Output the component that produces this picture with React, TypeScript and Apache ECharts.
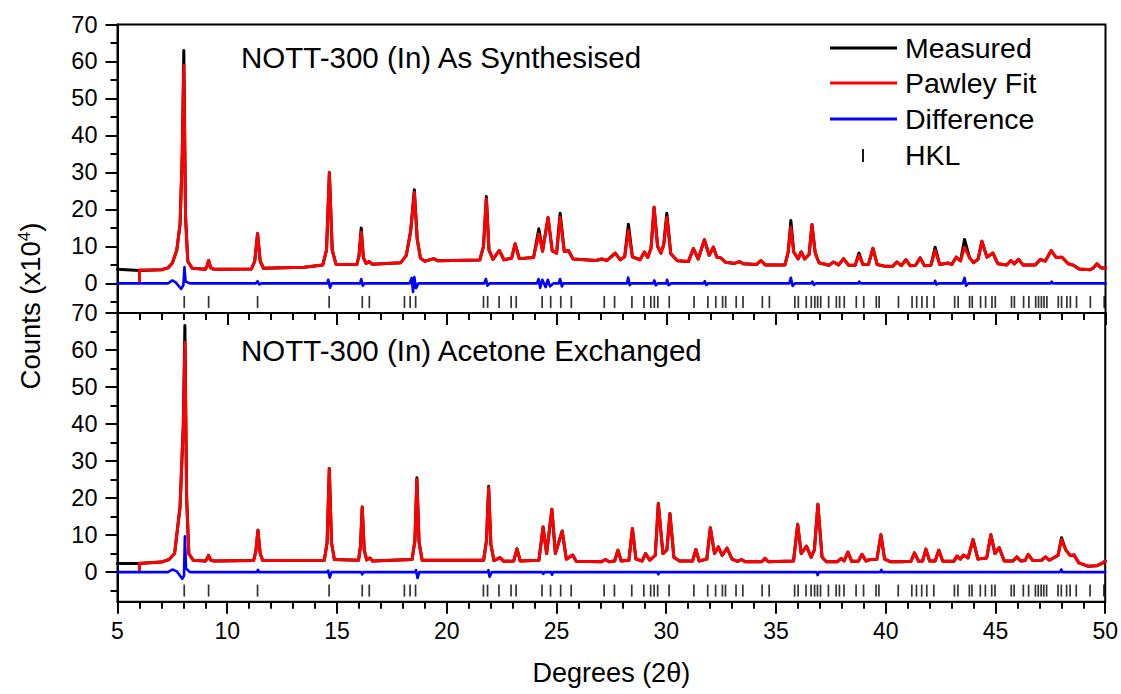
import React, { useEffect, useRef } from "react";
import * as echarts from "echarts";

const FONT = '"Liberation Sans", Arial, sans-serif';

const xTicks = [5, 50, 5];
const yMajor = [0, 10, 20, 30, 40, 50, 60, 70];
const yMinor = [-5, 5, 15, 25, 35, 45, 55, 65];

const hklPositions = [8.04, 9.15, 11.38, 14.64, 16.15, 16.47, 18.07, 18.33, 18.58, 21.67, 21.86, 22.38, 22.93, 23.16, 24.34, 24.73, 25.19, 25.67, 27.17, 27.64, 28.43, 28.98, 29.29, 29.45, 29.61, 30.13, 31.26, 31.89, 32.25, 32.56, 32.7, 33.18, 33.49, 34.37, 34.69, 35.85, 36.01, 36.37, 36.6, 36.76, 36.89, 37.03, 37.39, 37.74, 37.89, 38.1, 38.65, 38.99, 39.56, 39.69, 40.57, 41.19, 41.4, 41.64, 41.87, 42.19, 43.13, 43.29, 43.81, 43.93, 44.31, 44.54, 44.83, 44.98, 45.72, 45.85, 46.27, 46.51, 46.82, 46.95, 47.08, 47.2, 47.33, 47.85, 48.0, 48.24, 48.4, 48.68, 49.31, 49.94];

// Top panel: NOTT-300 (In) As Synthesised
const topMeasured = [[5,3.8],[6,3.5],[7,3.7],[7.3,4.2],[7.5,5.5],[7.7,9],[7.85,16],[7.95,35],[8.02,63],[8.1,18],[8.2,6],[8.4,4.1],[9.0,3.8],[9.07,4.5],[9.15,6.2],[9.25,4.2],[9.4,3.8],[11.1,3.9],[11.25,6],[11.38,13.5],[11.5,6],[11.65,4.1],[13.5,4.4],[14.35,5],[14.52,9],[14.65,30],[14.78,9],[14.95,5.2],[15.9,5.1],[16.0,7.5],[16.1,15],[16.2,7],[16.32,5.4],[16.46,5.9],[16.6,5.2],[17.9,5.6],[18.15,7.5],[18.35,14],[18.52,25.3],[18.65,12],[18.8,6.8],[19.0,6.0],[19.4,6.7],[19.6,6.1],[21.5,6.3],[21.67,10],[21.8,23.5],[21.92,9],[22.1,6.5],[22.39,8.9],[22.6,6.4],[22.95,6.8],[23.11,10.7],[23.3,6.7],[23.95,7],[24.19,14.8],[24.36,8.7],[24.61,17.8],[24.8,8.8],[25.0,8.2],[25.16,19],[25.35,8.6],[25.54,8.9],[25.75,6.6],[26.8,6.2],[27.06,6.6],[27.3,6.2],[27.67,8.2],[27.9,6.4],[28.1,7.2],[28.27,16],[28.45,7.2],[28.8,6.4],[29.0,8.5],[29.15,7],[29.3,9.5],[29.44,20.6],[29.6,10],[29.75,8.2],[29.88,10.5],[30.02,19],[30.2,8],[30.5,6.1],[31.0,5.9],[31.23,9.4],[31.45,6.6],[31.73,11.8],[31.95,7.6],[32.14,9.8],[32.3,7.1],[32.48,6.9],[32.7,5.7],[33.1,5.4],[33.33,5.9],[33.5,5.3],[34.1,5.1],[34.3,6.2],[34.5,5.0],[35.4,5.0],[35.55,8.5],[35.67,17],[35.8,8.5],[36.0,6.6],[36.14,8.5],[36.3,6.6],[36.5,7.8],[36.63,15.9],[36.78,8.2],[36.95,5.6],[37.4,4.9],[37.61,5.8],[37.85,5.0],[38.07,6.7],[38.3,4.9],[38.6,4.9],[38.77,8.2],[38.95,5.1],[39.2,5.1],[39.41,9.5],[39.6,5.1],[39.9,4.7],[40.3,4.6],[40.5,5.8],[40.7,4.8],[40.91,6.4],[41.1,4.8],[41.35,4.9],[41.56,6.9],[41.75,4.8],[42.05,4.9],[42.24,9.8],[42.45,5.1],[42.85,5.5],[43.0,5.1],[43.2,7.1],[43.4,6.1],[43.58,11.9],[43.81,6.9],[44.0,5.6],[44.2,6.6],[44.37,11.4],[44.6,7.1],[44.87,8.2],[45.1,5.3],[45.5,5.0],[45.69,6.2],[45.85,5.3],[46.04,6.5],[46.25,5.0],[46.8,5.0],[47.03,6.5],[47.25,6.0],[47.53,8.9],[47.75,7.0],[48.02,7.1],[48.3,5.3],[48.54,4.9],[48.8,3.9],[49.3,3.7],[49.45,4.2],[49.61,5.3],[49.8,4.2],[50,4.2]];
const topFitStart = [[6.0, 0.3], [6.0, 3.6]];
const topFitPeaks = [[8.02,59],[16.1,13.9],[18.52,24.6],[21.8,22.9],[24.19,13.4],[25.16,17.9],[28.27,14.3],[30.02,17.9],[35.67,15.2],[38.77,7.6],[42.24,8.9],[43.58,9.8]];
const topDifference = [[5,0],[7.3,0],[7.5,0.8],[7.65,0.3],[7.9,-1.5],[8.0,-0.5],[8.05,4.4],[8.1,0.5],[8.3,0],[11.3,0],[11.38,0.6],[11.45,-0.3],[11.55,0],[14.55,0],[14.6,1.0],[14.68,-1.2],[14.75,0],[16.05,0],[16.1,1.2],[16.17,-0.6],[16.25,0],[18.3,0],[18.4,1.5],[18.46,-2.3],[18.52,1.7],[18.6,-1.3],[18.7,0],[21.7,0],[21.78,1.2],[21.85,-0.6],[21.95,0],[24.1,0],[24.18,1.2],[24.25,-1.2],[24.35,1.0],[24.5,-1.0],[24.6,1.0],[24.7,-0.8],[24.85,0],[25.1,0],[25.16,1.2],[25.24,-0.8],[25.3,0],[28.2,0],[28.26,1.6],[28.33,-0.5],[28.4,0],[29.4,0],[29.45,0.8],[29.52,-0.5],[29.6,0],[30.0,0],[30.03,1.0],[30.1,-0.5],[30.2,0],[31.7,0],[31.75,0.6],[31.82,-0.4],[31.9,0],[35.6,0],[35.67,1.5],[35.75,-0.7],[35.85,0],[36.6,0],[36.65,0.5],[36.72,-0.4],[36.8,0],[38.75,0],[38.78,0.5],[38.85,0],[42.2,0],[42.24,0.7],[42.3,-0.3],[42.4,0],[43.5,0],[43.58,1.5],[43.65,-0.6],[43.75,0],[47.5,0],[47.55,0.5],[47.6,0],[50,0]];

// Bottom panel: NOTT-300 (In) Acetone Exchanged
const bottomMeasured = [[5,2.3],[6,2.3],[7,2.7],[7.35,3.4],[7.6,5],[7.85,17.6],[8.0,40],[8.07,66.6],[8.15,20],[8.25,5],[8.45,3.2],[9.0,3.0],[9.08,3.6],[9.15,4.5],[9.25,3.2],[9.4,3.0],[11.2,3.1],[11.3,5.5],[11.4,11.3],[11.5,5],[11.62,3.1],[14.42,3.2],[14.55,8],[14.65,28],[14.75,8],[14.88,3.4],[15.98,3.2],[16.07,7],[16.15,17.6],[16.24,6],[16.35,3.3],[16.5,3.8],[16.62,3.0],[18.42,3.4],[18.55,8.5],[18.64,25.5],[18.74,8],[18.88,3.2],[21.68,3.2],[21.81,8.5],[21.91,23.2],[22.01,7.5],[22.15,3.1],[22.43,3.9],[22.6,2.9],[23.05,3.0],[23.2,6.3],[23.35,3.0],[24.2,3.2],[24.39,12.2],[24.55,5],[24.79,17.0],[24.95,5],[25.26,11.1],[25.45,3.5],[25.74,4.6],[25.9,2.9],[27.05,2.8],[27.23,3.4],[27.4,2.8],[27.65,3.0],[27.8,5.9],[27.95,3.0],[28.3,3.2],[28.46,11.8],[28.62,3.5],[28.9,3.0],[29.06,5.0],[29.25,3.2],[29.5,4.5],[29.64,18.5],[29.85,5],[30.03,6],[30.17,15.8],[30.35,4.0],[30.6,3.0],[31.2,3.0],[31.35,6.1],[31.5,3.0],[31.85,3.5],[32.01,12.0],[32.2,5],[32.37,6.8],[32.55,4.5],[32.77,6.5],[33.0,3.5],[33.25,2.9],[33.43,3.4],[33.6,2.8],[34.35,2.8],[34.5,3.7],[34.65,2.8],[35.8,3.0],[35.99,12.9],[36.15,5],[36.39,7.0],[36.6,4.0],[36.75,6],[36.91,18.3],[37.1,4],[37.3,2.8],[37.8,2.8],[37.97,3.7],[38.1,3.0],[38.28,5.4],[38.45,2.9],[38.75,2.9],[38.92,4.8],[39.1,3.0],[39.28,3.4],[39.6,3.5],[39.78,10.1],[39.95,3.5],[40.2,2.8],[40.72,2.8],[41.15,2.9],[41.31,5.2],[41.5,2.9],[41.68,3.0],[41.83,6.2],[42.0,3.0],[42.25,3.0],[42.42,5.9],[42.6,2.9],[43.1,2.9],[43.25,4.3],[43.4,3.5],[43.54,4.6],[43.75,3.8],[43.98,8.8],[44.2,3.5],[44.6,3.8],[44.79,10.1],[44.98,5],[45.17,6.6],[45.4,3.0],[45.8,3.0],[45.97,4.1],[46.15,3.0],[46.35,3.1],[46.49,4.8],[46.7,3.1],[47.1,3.2],[47.28,4.1],[47.45,3.2],[47.85,4.5],[48.01,9.3],[48.2,6.0],[48.4,4.5],[48.58,4.6],[48.8,2.5],[49.2,1.6],[49.6,1.7],[49.9,2.5],[50,3.0]];
const bottomFitStart = [[6.0, 0.5], [6.0, 2.4]];
const bottomFitPeaks = [[8.07,62],[18.64,25],[21.91,22.8],[48.01,8.8]];
const bottomDifference = [[5,0],[7.3,0],[7.5,0.7],[7.7,0.2],[7.95,-1.8],[8.03,-1.0],[8.07,9.7],[8.12,1.0],[8.3,0],[11.35,0],[11.4,0.6],[11.45,0],[14.55,0],[14.6,0.4],[14.67,-1.5],[14.75,0],[16.1,0],[16.15,-0.6],[16.2,0],[18.55,0],[18.6,0.5],[18.67,-1.6],[18.75,0],[21.85,0],[21.9,0.5],[21.95,-1.3],[22.05,0],[24.35,0],[24.4,-0.5],[24.45,0],[24.75,0],[24.8,-0.7],[24.85,0],[29.6,0],[29.64,-0.6],[29.7,0],[36.85,0],[36.9,-0.8],[36.95,0],[39.75,0],[39.8,0.6],[39.85,0],[47.95,0],[48.0,0.7],[48.05,0],[50,0]];

const panelTitles = ["NOTT-300 (In) As Synthesised", "NOTT-300 (In) Acetone Exchanged"];
const legendNames = ["Measured", "Pawley Fit", "Difference", "HKL"];
const colors = { measured: "#000000", fit: "#ff0000", diff: "#0000ff" };

function buildFit(measured: number[][], start: number[][], peaks: number[][]) {
  const over = new Map(peaks.map((p) => [p[0], p[1]]));
  const startX = start[start.length - 1][0];
  return [
    ...start,
    ...measured.filter((p) => p[0] > startX).map((p) => (over.has(p[0]) ? [p[0], over.get(p[0]) as number] : p)),
  ];
}

const hklData = hklPositions.map((x) => [x, -5]);

function xAxisFor(gridIndex: number, showLabels: boolean) {
  return {
    type: "value",
    gridIndex,
    min: xTicks[0],
    max: xTicks[1],
    interval: xTicks[2],
    position: "bottom",
    axisLine: { show: true, onZero: false, lineStyle: { color: "#000", width: 2 } },
    axisTick: { show: true, length: 12, lineStyle: { color: "#000", width: 2 } },
    minorTick: { show: true, splitNumber: 5, length: 7, lineStyle: { color: "#000", width: 2 } },
    splitLine: { show: false },
    axisLabel: { show: showLabels, margin: 18, fontSize: 23, color: "#000", fontFamily: FONT },
    name: showLabels ? "Degrees (2θ)" : "",
    nameLocation: "middle",
    nameGap: 58,
    nameTextStyle: { fontSize: 27, color: "#000", fontFamily: FONT },
  };
}

function yAxesFor(gridIndex: number) {
  return [
    {
      type: "value",
      gridIndex,
      min: -8,
      max: 70,
      position: "left",
      axisLine: { show: true, onZero: false, lineStyle: { color: "#000", width: 2 } },
      axisTick: { show: true, length: 12, customValues: yMajor, lineStyle: { color: "#000", width: 2 } },
      axisLabel: { show: true, customValues: yMajor, margin: 20, fontSize: 23.5, color: "#000", fontFamily: FONT },
      splitLine: { show: false },
    },
    {
      type: "value",
      gridIndex,
      min: -8,
      max: 70,
      position: "left",
      offset: 0,
      axisLine: { show: false, onZero: false },
      axisTick: { show: true, length: 7, customValues: yMinor, lineStyle: { color: "#000", width: 2 } },
      axisLabel: { show: false },
      splitLine: { show: false },
    },
  ];
}

function panelSeries(xi: number, yi: number, measured: number[][], fit: number[][], diff: number[][]) {
  const line = (name: string, data: number[][], color: string, width: number) => ({
    name,
    type: "line",
    xAxisIndex: xi,
    yAxisIndex: yi,
    data,
    showSymbol: false,
    symbol: "none",
    lineStyle: { color, width, join: "round", cap: "round" },
    itemStyle: { color },
  });
  return [
    line(legendNames[0], measured, colors.measured, 3),
    line(legendNames[1], fit, colors.fit, 3),
    line(legendNames[2], diff, colors.diff, 2.6),
    {
      name: legendNames[3],
      type: "scatter",
      xAxisIndex: xi,
      yAxisIndex: yi,
      data: hklData,
      symbol: "rect",
      symbolSize: [1.7, 12],
      itemStyle: { color: "#000" },
    },
  ];
}

export default function App() {
  const ref = useRef<HTMLDivElement>(null);
  useEffect(() => {
    if (!ref.current) return;
    const chart = echarts.init(ref.current, undefined, { renderer: "svg" });
    const topFit = buildFit(topMeasured, topFitStart, topFitPeaks);
    const bottomFit = buildFit(bottomMeasured, bottomFitStart, bottomFitPeaks);
    const legendY = [48, 83, 119, 155];
    const legendColors = [colors.measured, colors.fit, colors.diff];
    const graphic: any[] = [];
    legendColors.forEach((c, i) => {
      graphic.push({ type: "line", shape: { x1: 830, y1: legendY[i], x2: 897, y2: legendY[i] }, style: { stroke: c, lineWidth: 3 } });
    });
    graphic.push({ type: "line", shape: { x1: 863, y1: legendY[3] - 6, x2: 863, y2: legendY[3] + 7 }, style: { stroke: "#000", lineWidth: 1.8 } });
    legendNames.forEach((n, i) => {
      graphic.push({ type: "text", x: 905, y: legendY[i], style: { text: n, fontSize: 28.5, fontFamily: FONT, fill: "#000", verticalAlign: "middle" } });
    });
    graphic.push({ type: "text", x: 241, y: 57, style: { text: panelTitles[0], fontSize: 29.5, fontFamily: FONT, fill: "#000", verticalAlign: "middle" } });
    graphic.push({ type: "text", x: 241, y: 350, style: { text: panelTitles[1], fontSize: 29.5, fontFamily: FONT, fill: "#000", verticalAlign: "middle" } });
    graphic.push({
      type: "text",
      x: 30,
      y: 306,
      rotation: Math.PI / 2,
      style: {
        text: "{n|Counts (x10}{s|4}{n|)}",
        align: "center",
        verticalAlign: "middle",
        fill: "#000",
        rich: {
          n: { fontSize: 27.5, fontFamily: FONT, fill: "#000", verticalAlign: "bottom" },
          s: { fontSize: 17, fontFamily: FONT, fill: "#000", verticalAlign: "top" },
        },
      },
    });

    const option: any = {
      animation: false,
      backgroundColor: "#ffffff",
      grid: [
        { left: 117.5, right: 15.5, top: 24.5, height: 288.5, show: true, borderColor: "#000", borderWidth: 2, containLabel: false },
        { left: 117.5, right: 15.5, top: 313, height: 288.7, show: true, borderColor: "#000", borderWidth: 2, containLabel: false },
      ],
      xAxis: [xAxisFor(0, false), xAxisFor(1, true)],
      yAxis: [...yAxesFor(0), ...yAxesFor(1)],
      series: [
        ...panelSeries(0, 0, topMeasured, topFit, topDifference),
        ...panelSeries(1, 2, bottomMeasured, bottomFit, bottomDifference),
      ],
      graphic,
    };
    chart.setOption(option);
    return () => chart.dispose();
  }, []);
  return <div ref={ref} style={{ position: "fixed", left: 0, top: 0, width: 1121, height: 694, background: "#fff" }} />;
}
